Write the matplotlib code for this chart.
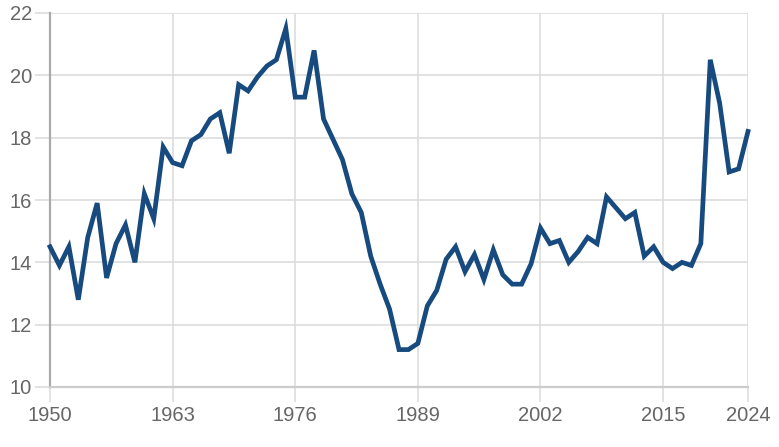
import matplotlib
matplotlib.use("Agg")
import matplotlib.pyplot as plt

years = list(range(1950, 2025))
values = [
    14.5, 13.9, 14.5, 12.8, 14.8, 15.9, 13.5, 14.6, 15.2, 14.0,  # 1950-1959
    16.2, 15.4, 17.7, 17.2, 17.1, 17.9, 18.1, 18.6, 18.8, 17.5,  # 1960-1969
    19.7, 19.5, 19.95, 20.3, 20.5, 21.5, 19.3, 19.3, 20.8, 18.6,  # 1970-1979
    17.95, 17.3, 16.2, 15.6, 14.2, 13.3, 12.5, 11.2, 11.2, 11.4,  # 1980-1989
    12.6, 13.1, 14.1, 14.5, 13.7, 14.25, 13.45, 14.4, 13.6, 13.3,  # 1990-1999
    13.3, 13.95, 15.1, 14.6, 14.7, 14.0, 14.35, 14.8, 14.6, 16.1,  # 2000-2009
    15.75, 15.4, 15.6, 14.2, 14.5, 14.0, 13.8, 14.0, 13.9, 14.6,  # 2010-2019
    20.5, 19.1, 16.9, 17.0, 18.2,  # 2020-2024
]
x_ticks = [1950, 1963, 1976, 1989, 2002, 2015, 2024]
y_ticks = [10, 12, 14, 16, 18, 20, 22]

plt.rcParams['font.family'] = ['Liberation Sans', 'DejaVu Sans']

W, H = 779, 447
fig = plt.figure(figsize=(W / 100, H / 100), dpi=100)
ax = fig.add_axes([50 / W, 1 - 387 / H, (748 - 50) / W, (387 - 13) / H])

ax.plot(years, values, color='#174a7e', linewidth=3.4, solid_joinstyle='miter', zorder=3, clip_on=False)

ax.set_xlim(1950, 2024)
ax.set_ylim(10, 22)
ax.set_xticks(x_ticks)
ax.set_yticks(y_ticks)
ax.set_xticklabels([str(t) for t in x_ticks])
ax.set_yticklabels([str(t) for t in y_ticks])

ax.grid(True, color='#dddddd', linewidth=1.2, zorder=0)
ax.set_axisbelow(True)
for side in ['top', 'right']:
    ax.spines[side].set_visible(False)
ax.spines['left'].set_color('#aaaaaa')
ax.spines['left'].set_linewidth(1.6)
ax.spines['bottom'].set_color('#cccccc')
ax.spines['bottom'].set_linewidth(1.6)

ax.tick_params(axis='both', colors='#dddddd', labelcolor='#666666', labelsize=14.5, width=1.2)
ax.tick_params(axis='y', length=11, pad=2)
ax.tick_params(axis='x', length=11, pad=3)

fig.savefig('out.png', dpi=100, facecolor='white')
